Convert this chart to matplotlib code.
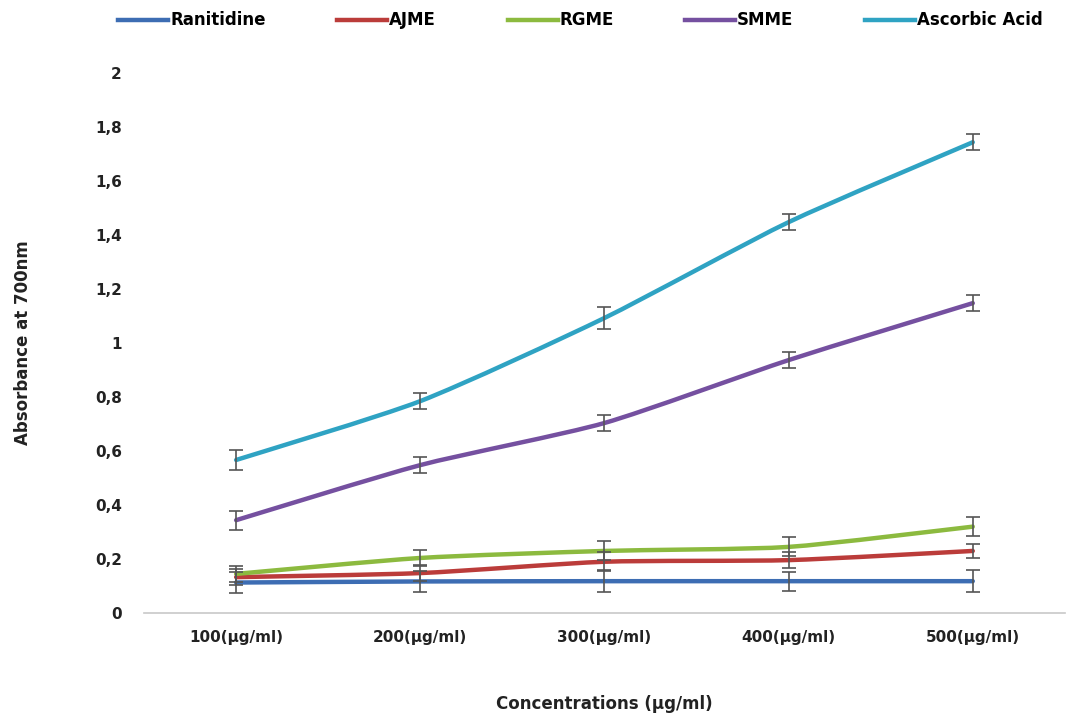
import numpy as np
import matplotlib
matplotlib.use("Agg")
import matplotlib.pyplot as plt
from matplotlib.path import Path
from matplotlib.patches import PathPatch
from matplotlib.lines import Line2D
from matplotlib.ticker import FuncFormatter

categories = ["100(µg/ml)", "200(µg/ml)", "300(µg/ml)", "400(µg/ml)", "500(µg/ml)"]
series_names = ["Ranitidine", "AJME", "RGME", "SMME", "Ascorbic Acid"]
ranitidine = [0.113, 0.117, 0.118, 0.118, 0.118]
ajme = [0.133, 0.148, 0.19, 0.196, 0.23]
rgme = [0.145, 0.204, 0.23, 0.245, 0.32]
smme = [0.344, 0.548, 0.704, 0.937, 1.148]
ascorbic = [0.567, 0.785, 1.093, 1.448, 1.744]
err_ranitidine = [0.04, 0.04, 0.04, 0.035, 0.04]
err_ajme = [0.03, 0.03, 0.035, 0.03, 0.025]
err_rgme = [0.03, 0.03, 0.035, 0.035, 0.035]
err_smme = [0.035, 0.03, 0.03, 0.03, 0.03]
err_ascorbic = [0.037, 0.03, 0.04, 0.03, 0.03]
colors = ["#3d6db3", "#bb3c3a", "#8cba3f", "#7550a0", "#2fa3c3"]

values = [ranitidine, ajme, rgme, smme, ascorbic]
errors = [err_ranitidine, err_ajme, err_rgme, err_smme, err_ascorbic]

fig = plt.figure(figsize=(10.67, 7.17), dpi=100)
ax = fig.add_axes([0.135, 0.145, 0.863, 0.753])

x = np.arange(len(categories))


def smooth_path(xs, ys, t=0.11):
    # Excel-like smoothed line as cubic Bezier segments through data points
    pts = np.column_stack([xs, ys]).astype(float)
    n = len(pts)
    verts = [pts[0]]
    codes = [Path.MOVETO]
    for i in range(n - 1):
        p0 = pts[i - 1] if i > 0 else pts[i]
        p1 = pts[i]
        p2 = pts[i + 1]
        p3 = pts[i + 2] if i + 2 < n else pts[i + 1]
        c1 = p1 + (p2 - p0) * t
        c2 = p2 - (p3 - p1) * t
        verts += [c1, c2, p2]
        codes += [Path.CURVE4] * 3
    return Path(verts, codes)


for vals, errs, col in zip(values, errors, colors):
    patch = PathPatch(smooth_path(x, vals), facecolor="none", edgecolor=col,
                      lw=3.2, capstyle="round", joinstyle="round", zorder=2)
    ax.add_patch(patch)
    ax.errorbar(x, vals, yerr=errs, fmt="none", ecolor="#555555",
                elinewidth=1.2, capsize=5, capthick=1.2, zorder=3)

ax.set_xlim(-0.5, len(categories) - 0.5)
ax.set_ylim(0, 2)
ax.set_yticks(np.arange(0, 2.01, 0.2))
ax.yaxis.set_major_formatter(FuncFormatter(
    lambda v, p: ("%g" % round(v, 1)).replace(".", ",")))
ax.set_xticks(x)
ax.set_xticklabels(categories)

for s in ["top", "right", "left"]:
    ax.spines[s].set_visible(False)
ax.spines["bottom"].set_color("#c8c8c8")
ax.spines["bottom"].set_linewidth(1.2)
ax.tick_params(axis="both", length=0)
ax.tick_params(axis="y", pad=16)
ax.tick_params(axis="x", pad=12)
for lbl in ax.get_xticklabels() + ax.get_yticklabels():
    lbl.set_fontweight("bold")
    lbl.set_fontsize(11)
    lbl.set_color("#222222")

ax.set_xlabel("Concentrations (µg/ml)", fontsize=12, fontweight="bold",
              color="#222222", labelpad=36)
ax.set_ylabel("Absorbance at 700nm", fontsize=12, fontweight="bold",
              color="#222222", labelpad=45)

handles = [Line2D([0], [0], color=c, lw=3.2) for c in colors]
fig.legend(handles, series_names, loc="upper left",
           bbox_to_anchor=(0.097, 1.005), ncol=5, frameon=False,
           handlelength=3.0, handletextpad=0.1, columnspacing=4.3,
           prop={"family": ["Liberation Sans Narrow", "DejaVu Sans"],
                 "weight": "bold", "size": 12})

fig.savefig("out.png", dpi=100, facecolor="white")
